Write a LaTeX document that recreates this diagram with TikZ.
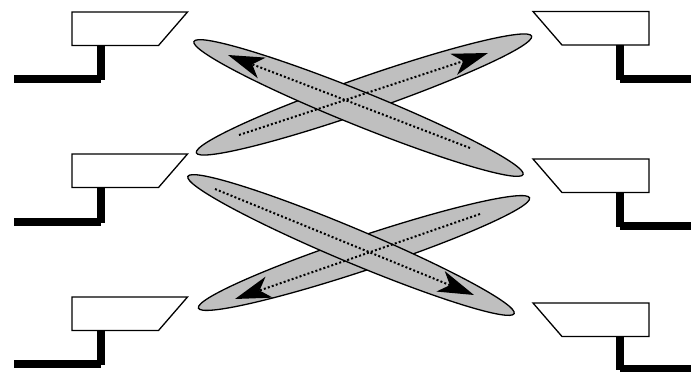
\documentclass[tikz,border=0pt]{standalone}
\usepackage{tikz}
\usetikzlibrary{arrows.meta, shapes.geometric}

\begin{document}
\begin{tikzpicture}[
    x=1pt, y=-1pt,
    beam/.style={ellipse, draw, fill=gray!50, line width=1.3pt, inner sep=0pt, outer sep=0pt, minimum height=34pt},
    cam/.style={draw, fill=white, line width=1.3pt, line join=miter},
    post/.style={line width=8pt, black},
    ray/.style={-{Stealth[length=36pt, width=22pt, inset=10pt]}, line width=2pt, dash pattern=on 2pt off 2.2pt}
]
\useasboundingbox (0,0) rectangle (691,372);

% kameraer til venstre
\foreach \top/\foot in {12/79,154/222,297/364} {
    \draw[cam] (72,\top) -- (187.5,\top) -- (158.5,\top+33.5) -- (72,\top+33.5) -- cycle;
    \draw[post] (101,\top+33.5) -- (101,\foot+1);
    \draw[post] (14,\foot) -- (101,\foot);
}

% kameraer til hoejre
\foreach \top/\foot in {11.5/79,159/226,303/369} {
    \draw[cam] (533,\top) -- (649,\top) -- (649,\top+33.5) -- (562,\top+33.5) -- cycle;
    \draw[post] (620,\top+33.5) -- (620,\foot+1);
    \draw[post] (620,\foot) -- (691,\foot);
}

% stråler
\node[beam, minimum width=355pt, rotate=19.2] (beamB) at (364,94.5) {};
\node[beam, minimum width=355pt, rotate=-22] (beamA) at (358.5,108) {};
\node[beam, minimum width=349pt, rotate=18.4] (beamD) at (364,253) {};
\node[beam, minimum width=354pt, rotate=-22.8] (beamC) at (351,245) {};

% prikkede pile
\coordinate (startA) at (470,148);
\coordinate (endA) at (228,55);
\coordinate (startB) at (239,135);
\coordinate (endB) at (488,53);
\coordinate (startC) at (215,189);
\coordinate (endC) at (474,295);
\coordinate (startD) at (480,214);
\coordinate (endD) at (235,299);
\draw[ray] (startA) -- (endA);
\draw[ray] (startB) -- (endB);
\draw[ray] (startC) -- (endC);
\draw[ray] (startD) -- (endD);

\end{tikzpicture}
\end{document}
